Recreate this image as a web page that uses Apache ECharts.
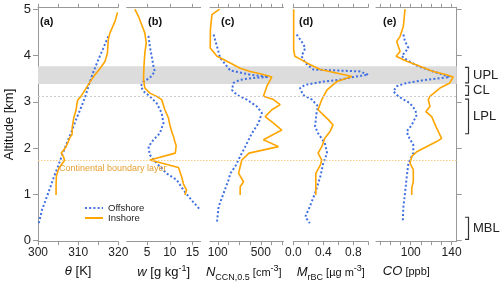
<!DOCTYPE html>
<html><head><meta charset="utf-8">
<script src="https://cdn.jsdelivr.net/npm/echarts@6/dist/echarts.min.js"></script>
<style>html,body{margin:0;padding:0;background:#fff}#c{width:500px;height:285px}</style>
</head><body><div id="c"></div>
<script>
// ---------- data: [value, altitude km] ----------
const thetaIn = [[319.8,4.94],[319.2,4.75],[317.9,4.49],[317.5,4.35],[317.3,4.06],[316.7,3.88],[315.5,3.73],[314.2,3.59],[313.0,3.44],[311.8,3.27],[310.7,3.12],[309.9,3.04],[309.7,2.96],[309.5,2.83],[308.9,2.65],[308.7,2.54],[308.5,2.43],[308.5,2.30],[307.9,2.22],[307.4,2.11],[306.8,2.00],[305.8,1.89],[306.4,1.80],[306.6,1.73],[305.2,1.56],[304.6,1.40],[304.5,1.20],[304.5,0.98]];
const thetaOff = [[317.5,4.42],[316.2,4.15],[315.0,3.91],[313.8,3.65],[312.8,3.40],[311.8,3.12],[310.5,2.83],[309.4,2.60],[308.5,2.39],[307.2,2.11],[306.0,1.85],[305.1,1.63],[304.3,1.45],[303.1,1.16],[301.9,0.87],[301.0,0.66],[300.2,0.37]];
const wIn = [[2.3,5.01],[3.1,4.85],[3.8,4.67],[4.5,4.49],[4.8,4.28],[4.5,4.06],[4.3,3.77],[4.2,3.48],[4.5,3.30],[5.6,3.19],[7.1,3.12],[8.2,3.05],[8.9,2.83],[9.7,2.65],[10.0,2.50],[10.4,2.36],[10.8,2.25],[11.1,2.14],[11.4,2.05],[11.2,1.89],[5.6,1.74],[11.9,1.58],[12.6,1.38],[13.0,1.22],[13.7,1.09],[13.3,0.98]];
const wOff = [[5.3,4.43],[5.6,4.20],[6.0,3.99],[6.4,3.77],[6.7,3.66],[5.6,3.52],[4.2,3.44],[3.6,3.34],[4.2,3.23],[5.6,3.12],[7.1,2.97],[8.2,2.76],[8.6,2.54],[7.8,2.32],[6.4,2.18],[5.3,2.03],[5.6,1.85],[7.1,1.67],[9.3,1.45],[11.5,1.31],[13.0,1.09],[14.8,0.87],[16.7,0.66]];
const ccnIn = [[117,5.01],[46,4.89],[32,4.57],[30,4.17],[93,3.99],[185,3.88],[308,3.73],[401,3.66],[494,3.61],[602,3.54],[556,3.34],[524,3.12],[617,3.05],[679,2.94],[602,2.83],[540,2.68],[617,2.54],[694,2.39],[524,2.18],[663,2.03],[390,1.89],[324,1.74],[308,1.60],[293,1.45],[339,1.27],[308,1.16],[308,0.98]];
const ccnOff = [[61,4.46],[93,4.20],[123,3.95],[185,3.77],[216,3.68],[401,3.59],[570,3.54],[431,3.52],[308,3.48],[246,3.41],[231,3.26],[278,3.15],[370,3.05],[463,2.90],[509,2.76],[478,2.54],[417,2.32],[355,2.03],[308,1.82],[262,1.60],[216,1.45],[200,1.31],[154,1.02],[108,0.73],[93,0.40]];
const rbcIn = [[0.005,5.01],[0.005,4.13],[0.02,3.99],[0.11,3.91],[0.22,3.81],[0.36,3.70],[0.62,3.61],[0.78,3.55],[0.58,3.44],[0.45,3.26],[0.38,3.05],[0.33,2.83],[0.40,2.72],[0.47,2.61],[0.53,2.50],[0.49,2.36],[0.42,2.21],[0.38,2.03],[0.33,1.89],[0.38,1.74],[0.36,1.63],[0.30,1.45],[0.30,0.98]];
const rbcOff = [[0.045,4.46],[0.11,4.31],[0.16,4.17],[0.11,3.99],[0.16,3.84],[0.27,3.70],[0.89,3.66],[1.0,3.59],[0.8,3.54],[0.62,3.48],[0.4,3.44],[0.16,3.37],[0.09,3.30],[0.13,3.15],[0.25,3.05],[0.33,2.90],[0.31,2.76],[0.29,2.47],[0.33,2.32],[0.42,2.11],[0.45,1.89],[0.40,1.67],[0.36,1.38],[0.29,1.02],[0.22,0.73],[0.16,0.51],[0.22,0.37]];
const coIn = [[94.4,5.01],[92.8,4.64],[89.6,4.42],[86.3,4.31],[87.9,4.20],[89.6,4.09],[85.7,3.99],[96.1,3.88],[109,3.77],[122,3.66],[135,3.59],[141.6,3.54],[138.3,3.41],[128.6,3.30],[118.8,3.12],[117.2,3.05],[118.8,2.90],[114.9,2.79],[120.5,2.68],[125.4,2.43],[130.2,2.21],[125.4,2.14],[105.9,1.92],[101,1.82],[99.3,1.67],[102.5,1.53],[102.5,1.27],[101,1.13],[101,0.98]];
const coOff = [[92.8,4.46],[94.4,4.31],[97.7,4.17],[91.2,3.99],[96.1,3.91],[107.4,3.77],[122,3.66],[138.3,3.54],[115.6,3.48],[96.1,3.41],[86.3,3.34],[83,3.23],[87.9,3.12],[99.3,2.97],[104.2,2.83],[105.9,2.72],[101,2.50],[96.1,2.36],[97.7,2.25],[102.5,2.07],[102.5,1.89],[97.7,1.67],[96.1,1.38],[94.4,1.02],[92.8,0.73],[92.2,0.40]];

// layers / reference lines (altitude km)
const bandAlt = [3.39, 3.77];
const cloudLineAlt = [3.12];
const cblLineAlt = [1.74];
const brackets = [[3.41,3.75,'UPL'],[3.14,3.35,'CL'],[2.31,3.06,'LPL'],[0.02,0.50,'MBL']];

// ticks & labels
const altTicks = [0,1,2,3,4,5];
const thetaTicks = [300,305,310,315,320], thetaLabels = [300,310,320];
const wTicks = [5,10,15], wLabels = [5,10,15];
const ccnTicks = [100,200,300,400,500,600,700], ccnLabels = [100,500];
const rbcTicks = [0,0.2,0.4,0.6,0.8,1.0], rbcLabels = [0,0.4,0.8];
const coTicks = [70,80,90,100,110,120,130,140], coLabels = [100,140];
const panelTags = ['(a)','(b)','(c)','(d)','(e)'];

// ---------- layout ----------
const FONT = "'Liberation Sans', Arial, Helvetica, sans-serif";
const BLUE = '#3f6fe0', ORANGE = '#ffa500', AXC = '#999';
const TOP = 7.3, H = 234.4, YMIN = -0.03, YMAX = 5.05;
const bounds = [[38,118.3],[126.7,200.7],[210,283.5],[293.3,368.3],[376,456.7]];
const ranges = [[300,320],[0.5,16.8],[28,710],[0,1.0],[66,145]];
const tickSets = [thetaTicks,wTicks,ccnTicks,rbcTicks,coTicks];
const labelSets = [thetaLabels,wLabels,ccnLabels,rbcLabels,coLabels];
const fmts = [v=>String(v), v=>String(v), v=>String(v), v=>v.toFixed(1), v=>String(v)];
const ins = [thetaIn,wIn,ccnIn,rbcIn,coIn];
const offs = [thetaOff,wOff,ccnOff,rbcOff,coOff];
const tagLeft = [40,148,221,299,383];

const rich = {
  i:{fontStyle:'italic', fontSize:13, fontFamily:FONT, color:'#111', lineHeight:18},
  n:{fontSize:13, fontFamily:FONT, color:'#111', lineHeight:18},
  s:{fontSize:11, fontFamily:FONT, color:'#111', lineHeight:18},
  sub:{fontSize:9, fontFamily:FONT, color:'#111', lineHeight:9, verticalAlign:'bottom'},
  sup:{fontSize:9, fontFamily:FONT, color:'#111', lineHeight:9, verticalAlign:'top'}
};
const names = [
  '{i|θ}{n| [K]}',
  '{i|w}{n| [g kg}{sup|-1}{n|]}',
  '{i|N}{sub|CCN,0.5}{s| [cm}{sup|-3}{s|]}',
  '{i|M}{sub|rBC}{s| [µg m}{sup|-3}{s|]}',
  '{i|CO}{s| [ppb]}'
];
const namePad = [[0,0,0,0],[0,0,0,0],[0,6,0,0],[0,0,0,0],[0,20,0,0]];

const grids = [], xAxes = [], yAxes = [], series = [];
for (let i=0;i<5;i++){
  const [l,r] = bounds[i];
  grids.push({left:l, top:TOP, width:r-l, height:H, containLabel:false, outerBoundsMode:'none'});
  const common = {type:'value', gridIndex:i, min:ranges[i][0], max:ranges[i][1],
    axisLine:{show:true,onZero:false,lineStyle:{color:AXC,width:1}},
    axisTick:{show:true,length:3.5,customValues:tickSets[i],lineStyle:{color:AXC,width:1}},
    splitLine:{show:false}};
  xAxes.push(Object.assign({}, common, {position:'bottom',
    axisLabel:{show:true,customValues:labelSets[i],formatter:fmts[i],fontSize:12,color:'#222',margin:5,fontFamily:FONT},
    name:names[i], nameLocation:'middle', nameGap:21,
    nameTextStyle:{rich:rich, padding:namePad[i]}}));
  xAxes.push(Object.assign({}, common, {position:'top', axisLabel:{show:false}}));
  let ya;
  if (i===0){
    ya = {type:'value', gridIndex:0, position:'left', min:YMIN, max:YMAX,
      axisLine:{show:true,onZero:false,lineStyle:{color:AXC}},
      axisTick:{show:true,length:5,customValues:altTicks,lineStyle:{color:AXC}},
      axisLabel:{customValues:altTicks,fontSize:13,color:'#222',margin:7,fontFamily:FONT},
      splitLine:{show:false},
      name:'Altitude [km]', nameLocation:'middle', nameGap:22,
      nameTextStyle:{fontSize:13,color:'#111',fontFamily:FONT}};
  } else if (i===4){
    ya = {type:'value', gridIndex:4, position:'right', min:YMIN, max:YMAX,
      axisLine:{show:true,onZero:false,lineStyle:{color:AXC}},
      axisTick:{show:true,length:5,customValues:altTicks,lineStyle:{color:AXC}},
      axisLabel:{show:false}, splitLine:{show:false}};
  } else {
    ya = {type:'value', gridIndex:i, min:YMIN, max:YMAX, show:false};
  }
  yAxes.push(ya);
  series.push({type:'line', name:'Offshore', xAxisIndex:2*i, yAxisIndex:i, data:offs[i],
    symbol:'none', showSymbol:false, z:3, clip:false,
    lineStyle:{color:BLUE,width:2,type:[2,2.2]}, itemStyle:{color:BLUE}});
  series.push({type:'line', name:'Inshore', xAxisIndex:2*i, yAxisIndex:i, data:ins[i],
    symbol:'none', showSymbol:false, z:4, clip:false,
    lineStyle:{color:ORANGE,width:1.6}, itemStyle:{color:ORANGE}});
}
// overlay grid for band + reference lines
grids.push({left:38, top:TOP, width:456.7-38, height:H, outerBoundsMode:'none'});
xAxes.push({type:'value', gridIndex:5, min:0, max:1, show:false});
yAxes.push({type:'value', gridIndex:5, min:YMIN, max:YMAX, show:false});
series.push({type:'line', xAxisIndex:10, yAxisIndex:5, data:[[0,bandAlt[0]]], symbol:'none',
  lineStyle:{opacity:0}, z:1, silent:true,
  markArea:{silent:true, itemStyle:{color:'#dcdcdc'}, data:[[{yAxis:bandAlt[0]},{yAxis:bandAlt[1]}]]}});
series.push({type:'line', xAxisIndex:10, yAxisIndex:5, data:[[0,cloudLineAlt[0]]], symbol:'none',
  lineStyle:{opacity:0}, z:1, silent:true, color:'#cccccc',
  markLine:{silent:true, symbol:['none','none'], label:{show:false},
    lineStyle:{color:'#cccccc',width:1,type:[2,2]},
    data:cloudLineAlt.map(a=>({yAxis:a}))}});
series.push({type:'line', xAxisIndex:10, yAxisIndex:5, data:[[0,cblLineAlt[0]]], symbol:'none',
  lineStyle:{opacity:0}, z:1, silent:true, color:'#f8d494',
  markLine:{silent:true, symbol:['none','none'], label:{show:false},
    lineStyle:{color:'#f8cf88',width:1,type:[1.5,1.5]},
    data:cblLineAlt.map(a=>({yAxis:a}))}});
// bracket grid
grids.push({left:465, top:TOP, width:3.5, height:H, outerBoundsMode:'none'});
xAxes.push({type:'value', gridIndex:6, min:0, max:1, show:false});
yAxes.push({type:'value', gridIndex:6, min:YMIN, max:YMAX, show:false});
series.push({type:'custom', xAxisIndex:11, yAxisIndex:6, data:brackets, silent:true, clip:false,
  renderItem:function(params, api){
    const p1 = api.coord([0, api.value(1)]), p2 = api.coord([1, api.value(0)]);
    const x0 = p1[0], x1 = p2[0], y1 = p1[1], y2 = p2[1];
    return {type:'group', children:[
      {type:'polyline', shape:{points:[[x0,y1],[x1,y1],[x1,y2],[x0,y2]]}, style:{stroke:'#333',lineWidth:1.2,fill:null}},
      {type:'text', style:{text:brackets[params.dataIndex][2], x:x1+4.5, y:(y1+y2)/2, verticalAlign:'middle', align:'left',
        fill:'#222', font:'13px '+FONT}}
    ]};
  }});

const graphics = panelTags.map((t,i)=>({type:'text', left:tagLeft[i], top:16, z:10,
  style:{text:t, font:'bold 11px '+FONT, fill:'#111'}}));
graphics.push({type:'text', left:59, top:164.5, z:10,
  style:{text:'Continental boundary layer', font:'9px '+FONT, fill:'#e5a032'}});

const chart = echarts.init(document.getElementById('c'), null, {renderer:'canvas'});
chart.setOption({
  animation:false,
  backgroundColor:'#fff',
  textStyle:{fontFamily:FONT},
  grid:grids, xAxis:xAxes, yAxis:yAxes, series:series, graphic:graphics,
  legend:{data:['Offshore','Inshore'], orient:'vertical', left:79, top:198, itemWidth:18, itemHeight:10, itemGap:0,
    itemStyle:{opacity:0, borderWidth:0},
    textStyle:{fontSize:9.5,color:'#222',fontFamily:FONT}, selectedMode:false}
});
</script></body></html>
